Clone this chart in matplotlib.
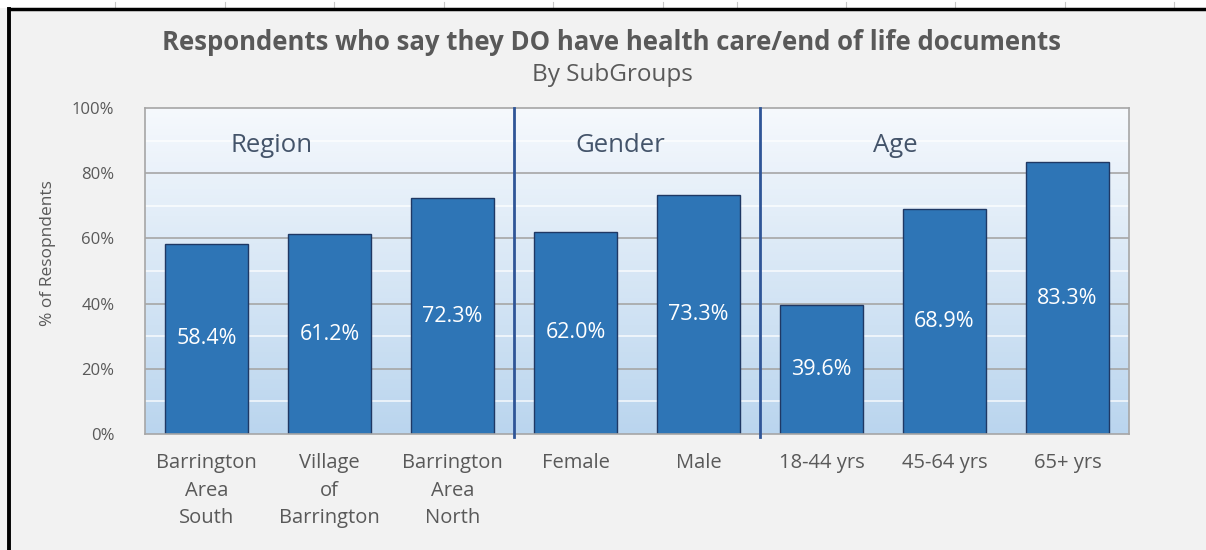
import numpy as np
import matplotlib
matplotlib.use('Agg')
import matplotlib.pyplot as plt
from matplotlib.colors import LinearSegmentedColormap
from matplotlib.lines import Line2D
from matplotlib.patches import Rectangle

plt.rcParams['font.family'] = ['Open Sans', 'DejaVu Sans']

categories = ['Barrington\nArea\nSouth', 'Village\nof\nBarrington', 'Barrington\nArea\nNorth',
              'Female', 'Male', '18-44 yrs', '45-64 yrs', '65+ yrs']
values = [58.4, 61.2, 72.3, 62.0, 73.3, 39.6, 68.9, 83.3]
groups = ['Region', 'Gender', 'Age']
group_centers = [0.53, 3.36, 5.6]
dividers = [2.5, 4.5]
yticks = [0, 20, 40, 60, 80, 100]

W, H = 1206, 550
fig = plt.figure(figsize=(W / 100, H / 100), dpi=100)
fig.patch.set_facecolor('#f2f2f2')

# spreadsheet strip at the top and the frame edges
fig.patches.append(Rectangle((0, 1 - 8 / H), 1, 8 / H, transform=fig.transFigure,
                             facecolor='white', edgecolor='none', zorder=0))
for px in [115, 225, 334, 444, 553, 663, 737, 846, 955, 1065, 1174]:
    fig.lines.append(Line2D([px / W, px / W], [1 - 7 / H, 1 - 2 / H], transform=fig.transFigure,
                            color='#c8c8c8', lw=0.8))
fig.lines.append(Line2D([9 / W, 1], [1 - 8.5 / H, 1 - 8.5 / H], transform=fig.transFigure,
                        color='black', lw=2.5))
fig.lines.append(Line2D([9 / W, 9 / W], [0, 1 - 8.5 / H], transform=fig.transFigure,
                        color='black', lw=2.8))

ax = fig.add_axes([145 / W, (H - 434) / H, (1129 - 145) / W, (434 - 108) / H])

# gradient fill of the plot area
cmap = LinearSegmentedColormap.from_list('bg', ['#bad5ee', '#f6f9fd'])
grad = np.linspace(0, 1, 256).reshape(-1, 1)
ax.imshow(grad, extent=[0, 1, 0, 1], transform=ax.transAxes, cmap=cmap,
          origin='lower', aspect='auto', zorder=0)

x = np.arange(len(categories))
ax.set_xlim(-0.5, len(categories) - 0.5)
ax.set_ylim(0, 100)

for y in [10, 30, 50, 70, 90]:
    ax.axhline(y, color='white', lw=1.2, alpha=0.8, zorder=1)
for y in [20, 40, 60, 80]:
    ax.axhline(y, color='#a6a6a6', lw=1.2, zorder=1)

bars = ax.bar(x, values, width=0.67, color='#2e75b6', edgecolor='#1f3864', linewidth=1.0, zorder=2)
for b, v in zip(bars, values):
    ax.text(b.get_x() + b.get_width() / 2, v / 2, f'{v:.1f}%', ha='center', va='center',
            color='white', fontsize=15.5, zorder=3)

for d in dividers:
    ax.plot([d, d], [-1, 100], color='#2f5597', lw=2, clip_on=False, zorder=3)

for g, gx in zip(groups, group_centers):
    ax.text(gx, 88.5, g, ha='center', va='center', fontsize=18.5, color='#44546a', zorder=3)

ax.set_xticks(x)
ax.set_xticklabels(categories, fontsize=14.5, color='#595959', linespacing=1.48)
ax.set_yticks(yticks)
ax.set_yticklabels([f'{t}%' for t in yticks], fontsize=12, color='#595959')
ax.tick_params(length=0)
ax.tick_params(axis='x', pad=14)
ax.tick_params(axis='y', pad=22)
for s in ax.spines.values():
    s.set_color('#a6a6a6')
    s.set_linewidth(1.2)

fig.text(48 / W, 1 - 253 / H, '% of Resopndents', rotation=90, ha='center', va='center',
         fontsize=12.5, color='#595959')
fig.text(612 / W, 1 - 42 / H, 'Respondents who say they DO have health care/end of life documents',
         ha='center', va='center', fontsize=18.5, fontweight='bold', color='#595959')
fig.text(612 / W, 1 - 75 / H, 'By SubGroups', ha='center', va='center', fontsize=17.5, color='#595959')

fig.savefig('out.png', dpi=100, facecolor=fig.get_facecolor())
